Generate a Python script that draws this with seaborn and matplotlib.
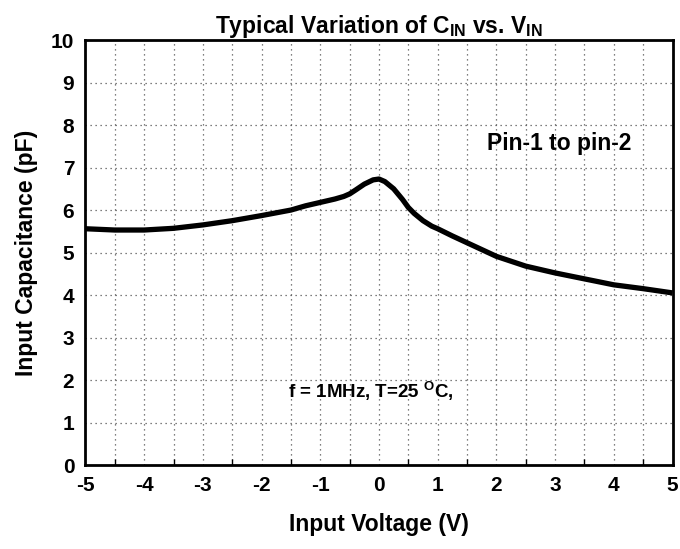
import matplotlib
matplotlib.use("Agg")
import matplotlib.pyplot as plt
import seaborn as sns
import pandas as pd
from matplotlib.ticker import MultipleLocator

# Data
vin = [-5.0, -4.5, -4.0, -3.5, -3.0, -2.5, -2.0, -1.5, -1.25, -1.0, -0.75, -0.6, -0.5, -0.4,
       -0.25, -0.1, 0.0, 0.1, 0.25, 0.4, 0.5, 0.6, 0.75, 0.9, 1.0, 1.25, 1.5, 2.0, 2.5,
       3.0, 3.5, 4.0, 4.5, 5.0]
cin = [5.56, 5.53, 5.53, 5.57, 5.65, 5.75, 5.87, 6.0, 6.1, 6.18, 6.26, 6.32, 6.38, 6.47,
       6.61, 6.71, 6.73, 6.67, 6.5, 6.25, 6.06, 5.92, 5.75, 5.62, 5.56, 5.39, 5.23, 4.91, 4.68,
       4.52, 4.38, 4.24, 4.15, 4.05]
xticks = [-5, -4, -3, -2, -1, 0, 1, 2, 3, 4, 5]
yticks = [0, 1, 2, 3, 4, 5, 6, 7, 8, 9, 10]

sns.set_theme(style="white")
plt.rcParams['font.family'] = ['Liberation Sans', 'DejaVu Sans']
plt.rcParams['font.weight'] = 'bold'
plt.rcParams['text.color'] = 'black'
plt.rcParams['axes.labelcolor'] = 'black'
plt.rcParams['xtick.color'] = 'black'
plt.rcParams['ytick.color'] = 'black'
plt.rcParams['mathtext.fontset'] = 'custom'
plt.rcParams['mathtext.rm'] = 'Liberation Sans:bold'
plt.rcParams['mathtext.bf'] = 'Liberation Sans:bold'
plt.rcParams['mathtext.it'] = 'Liberation Sans:bold'

df = pd.DataFrame({"vin": vin, "cin": cin})

fig = plt.figure(figsize=(6.8, 5.49), dpi=100)
ax = fig.add_axes([0.1257, 0.153, 0.989 - 0.1257, 0.927 - 0.153])

sns.lineplot(data=df, x="vin", y="cin", ax=ax, color="black", linewidth=3.8, zorder=3,
             solid_capstyle='butt', solid_joinstyle='round')

ax.set_xlim(-5, 5)
ax.set_ylim(0, 10)
ax.set_xticks(xticks)
ax.set_yticks(yticks)
ax.xaxis.set_minor_locator(MultipleLocator(0.5))
ax.set_xticklabels([str(t) for t in xticks], fontsize=15, fontweight='bold', color='black')
ax.set_yticklabels([str(t) for t in yticks], fontsize=15, fontweight='bold', color='black')
ax.tick_params(axis='both', which='major', direction='in', length=6, width=2, pad=8,
               top=False, right=False, colors='black')
ax.tick_params(axis='x', which='minor', direction='in', length=4, width=1, bottom=True,
               colors='black')
ax.grid(True, which='both', axis='x', linestyle=(0, (1, 3)), color='#555555', linewidth=0.9)
ax.grid(True, which='major', axis='y', linestyle=(0, (1, 3)), color='#555555', linewidth=0.9)
for s in ax.spines.values():
    s.set_visible(True)
    s.set_color('black')
    s.set_linewidth(2)

ax.set_xlabel("Input Voltage (V)", fontsize=16.5, fontweight='bold', labelpad=13, color='black')
ax.set_ylabel("Input Capacitance (pF)", fontsize=16.5, fontweight='bold', labelpad=9, color='black')
ax.set_title(r"Typical Variation of C$_{\mathrm{IN}}$ vs. V$_{\mathrm{IN}}$",
             fontsize=16.5, fontweight='bold', pad=5, color='black')

ax.text(1.84, 7.56, "Pin-1 to pin-2", fontsize=16.5, fontweight='bold', va='center', ha='left',
        color='black')
ax.text(-1.55, 1.74, r"f = 1MHz, T=25 $^{\mathrm{O}}$C,", fontsize=13.5, fontweight='bold',
        va='center', ha='left', color='black')

fig.savefig("out.png", dpi=100)
